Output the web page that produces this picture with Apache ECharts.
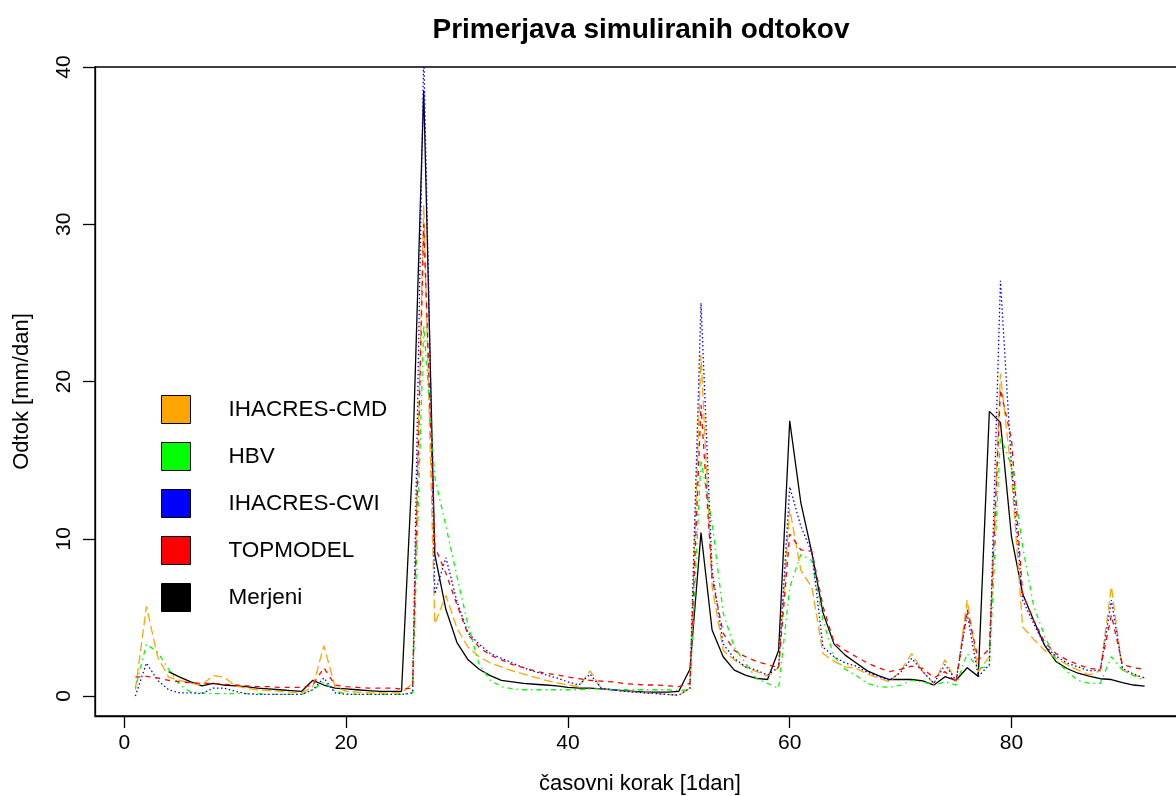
<!DOCTYPE html>
<html>
<head>
<meta charset="utf-8">
<script src="https://cdn.jsdelivr.net/npm/echarts@6.0.0/dist/echarts.min.js"></script>
<style>
html,body{margin:0;padding:0;background:#fff;}
#chart{width:1176px;height:796px;}
</style>
</head>
<body>
<div id="chart"></div>
<script>
const titleText = 'Primerjava simuliranih odtokov';
const xTitle = 'časovni korak [1dan]';
const yTitle = 'Odtok [mm/dan]';
const xTicks = [0, 20, 40, 60, 80];
const yTicks = [0, 10, 20, 30, 40];
const seriesNames = ['IHACRES-CMD', 'HBV', 'IHACRES-CWI', 'TOPMODEL', 'Merjeni'];

// time steps 1..92
const steps = Array.from({length: 92}, (_, i) => i + 1);

const ihacresCMD = [0.4,5.7,2.5,1.2,1.0,0.8,0.7,1.3,1.2,0.65,0.5,0.4,0.35,0.3,0.25,0.2,0.6,3.2,0.6,0.3,
  0.25,0.2,0.2,0.2,0.2,0.8,31.2,4.6,6.4,4.3,3.1,2.5,2.1,1.85,1.6,1.4,1.2,1.0,0.85,0.7,
  0.6,1.6,0.5,0.4,0.3,0.25,0.2,0.15,0.1,0.05,0.5,21.7,7.0,2.9,2.3,1.85,1.55,1.27,1.8,11.9,
  8.0,6.9,2.7,2.2,1.85,1.75,1.4,1.15,0.9,1.6,2.7,1.55,0.8,2.3,0.9,6.1,1.55,2.5,20.5,14.0,
  4.4,3.6,2.9,2.4,2.0,1.65,1.35,1.6,6.95,1.65,1.33,1.15];

const hbv = [0.5,3.3,2.8,1.7,0.7,0.25,0.2,0.15,0.15,0.15,0.15,0.15,0.1,0.1,0.1,0.1,0.4,0.9,0.3,0.15,
  0.1,0.1,0.1,0.1,0.1,0.2,23.6,13.9,10.8,7.6,4.5,2.0,1.0,0.6,0.45,0.4,0.4,0.4,0.4,0.4,
  0.4,0.45,0.45,0.4,0.4,0.4,0.4,0.4,0.4,0.35,0.4,15.0,11.0,5.3,3.1,2.1,1.1,0.8,0.5,6.9,
  9.0,8.6,4.8,2.5,1.7,1.3,0.8,0.6,0.55,0.7,1.0,0.9,0.7,0.9,0.7,2.7,1.75,1.9,16.5,14.6,
  9.5,5.7,3.8,2.3,1.55,1.0,0.8,0.8,2.5,1.65,1.3,1.0];

const ihacresCWI = [0.0,2.1,1.0,0.4,0.2,0.2,0.15,0.5,0.5,0.3,0.15,0.1,0.1,0.1,0.1,0.1,0.4,1.15,0.2,0.1,
  0.1,0.1,0.1,0.1,0.1,0.2,41.0,6.5,8.8,6.0,4.0,3.3,2.7,2.4,2.1,1.8,1.55,1.35,1.15,0.9,
  0.7,1.4,0.5,0.4,0.3,0.25,0.2,0.15,0.1,0.05,0.5,25.0,8.0,3.3,2.4,1.85,1.65,1.33,1.85,13.3,
  10.8,9.1,3.1,2.5,2.1,1.9,1.5,1.25,1.0,1.5,2.4,1.55,0.8,2.0,1.0,5.25,1.23,2.0,26.4,14.6,
  6.1,4.6,3.2,2.55,2.1,1.85,1.6,1.65,6.1,1.75,1.4,1.15];

const topmodel = [1.2,1.25,1.15,1.0,0.9,0.85,0.8,0.8,0.75,0.7,0.65,0.6,0.6,0.55,0.55,0.55,0.7,1.8,0.7,0.6,
  0.55,0.5,0.5,0.5,0.45,0.5,30.0,9.5,7.8,5.8,3.9,3.1,2.6,2.3,2.0,1.8,1.6,1.45,1.35,1.2,
  1.1,1.0,0.95,0.9,0.8,0.75,0.7,0.7,0.65,0.6,0.8,18.5,7.5,4.0,2.9,2.5,2.2,2.0,1.8,10.3,
  9.3,9.2,5.7,3.4,2.9,2.5,2.1,1.8,1.55,1.7,1.9,1.75,1.15,1.55,0.9,5.5,2.3,3.0,19.5,16.3,
  6.5,4.8,3.4,2.7,2.3,2.0,1.75,1.7,5.15,2.0,1.8,1.7];

const merjeni = [null,null,null,1.55,1.2,0.9,0.65,0.8,0.7,0.65,0.6,0.5,0.45,0.4,0.35,0.3,1.0,0.7,0.5,0.45,
  0.4,0.35,0.3,0.3,0.3,15.0,38.5,9.0,5.5,3.4,2.3,1.7,1.3,1.0,0.9,0.8,0.75,0.7,0.65,0.55,
  0.5,0.5,0.45,0.4,0.35,0.3,0.25,0.25,0.25,0.3,1.7,10.4,4.2,2.5,1.65,1.33,1.12,1.05,2.9,17.5,
  12.3,9.1,5.3,3.3,2.6,2.1,1.6,1.3,1.05,1.05,1.05,0.97,0.7,1.23,1.0,1.8,1.25,18.1,17.4,10.1,
  6.5,4.8,3.2,2.2,1.75,1.45,1.27,1.1,1.05,0.85,0.7,0.63];

const FONT = "'Liberation Sans', Arial, sans-serif";
function pairs(vals){ return steps.map((s,i)=>[s, vals[i]]); }

const chart = echarts.init(document.getElementById('chart'), null, {renderer:'canvas'});

function lineSeries(name, vals, color, dash, width, z){
  return {
    name: name, type: 'line', data: pairs(vals),
    showSymbol: false, symbol: 'none', connectNulls: false,
    lineStyle: {color: color, width: width, type: dash},
    itemStyle: {color: color},
    z: z, animation: false, clip: true
  };
}

chart.setOption({
  animation: false,
  backgroundColor: '#ffffff',
  title: {
    text: titleText, left: 636, top: 11, textAlign: 'center',
    textStyle: {fontFamily: FONT, fontSize: 28, fontWeight: 'bold', color: '#000'}
  },
  grid: {
    left: 95, top: 67, width: 1090, height: 649,
    show: true, borderColor: '#000', borderWidth: 1.3, backgroundColor: 'transparent',
    containLabel: false, outerBoundsMode: 'none'
  },
  legend: {
    data: seriesNames, orient: 'vertical', left: 161, top: 395, padding: 0,
    icon: 'rect', itemWidth: 29, itemHeight: 28, itemGap: 18,
    itemStyle: {borderColor: '#000', borderWidth: 1, borderType: 'solid'},
    textStyle: {fontFamily: FONT, fontSize: 22.5, lineHeight: 26, color: '#000', padding: [0,0,0,33]},
    selectedMode: false
  },
  xAxis: {
    type: 'value', min: -2.64, max: 95.64,
    name: xTitle, nameLocation: 'middle', nameGap: 57,
    nameTextStyle: {fontFamily: FONT, fontSize: 22, color: '#000'},
    axisLine: {show: true, onZero: false, lineStyle: {color: '#000', width: 1.3}},
    axisTick: {show: true, length: 12, inside: false, customValues: xTicks, lineStyle: {color: '#000', width: 1.3}},
    axisLabel: {customValues: xTicks, margin: 17, fontFamily: FONT, fontSize: 21, color: '#000'},
    splitLine: {show: false}
  },
  yAxis: {
    type: 'value', min: -1.27, max: 40,
    name: yTitle, nameLocation: 'middle', nameGap: 62, nameRotate: 90,
    nameTextStyle: {fontFamily: FONT, fontSize: 22, color: '#000'},
    axisLine: {show: true, onZero: false, lineStyle: {color: '#000', width: 1.3}},
    axisTick: {show: true, length: 12, inside: false, customValues: yTicks, lineStyle: {color: '#000', width: 1.3}},
    axisLabel: {customValues: yTicks, rotate: 90, margin: 20, fontFamily: FONT, fontSize: 21, color: '#000'},
    splitLine: {show: false}
  },
  series: [
    lineSeries('Merjeni', merjeni, '#000000', 'solid', 1.3, 2),
    lineSeries('IHACRES-CMD', ihacresCMD, '#FFA500', [9, 4], 1.3, 3),
    lineSeries('HBV', hbv, '#00FF00', [1.5, 4, 5, 4], 1.3, 3),
    lineSeries('IHACRES-CWI', ihacresCWI, '#0000FF', [1.5, 2.5], 1.3, 3),
    lineSeries('TOPMODEL', topmodel, '#FF0000', [5, 5], 1.3, 3)
  ]
});
</script>
</body>
</html>
